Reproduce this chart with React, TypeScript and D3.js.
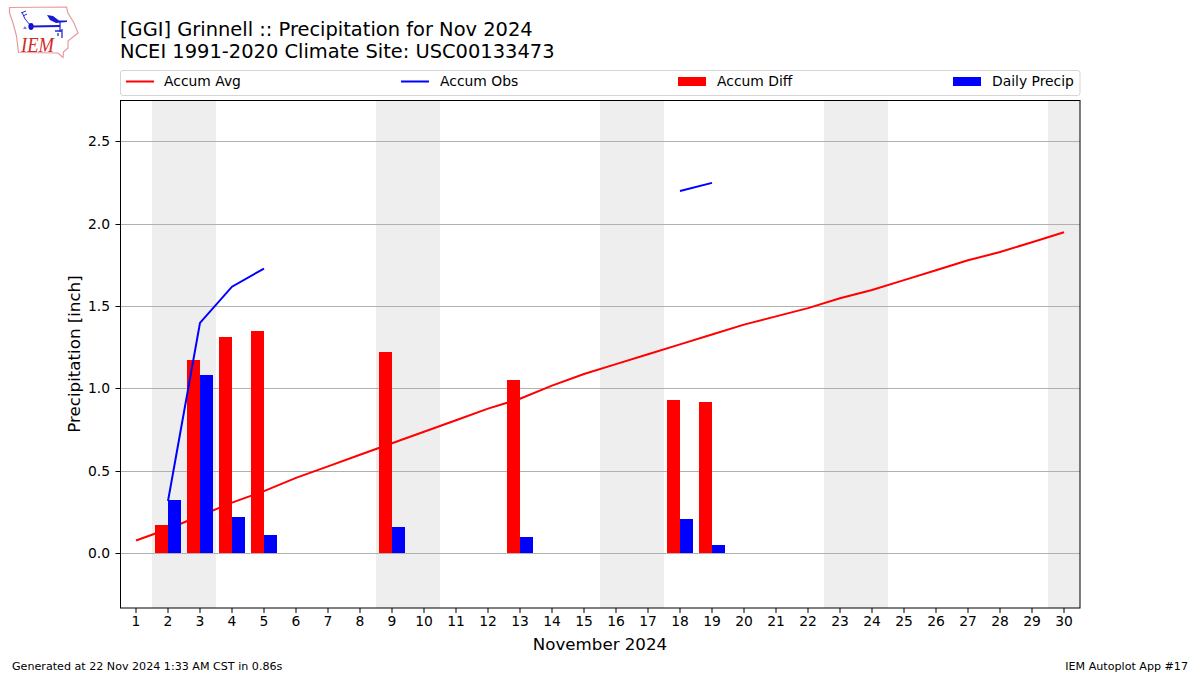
import React from "react";
import * as d3 from "d3";

const days = d3.range(1, 31);
const accumAvg = [0.08, 0.15, 0.23, 0.31, 0.38, 0.46, 0.53, 0.6, 0.67, 0.74, 0.81, 0.88, 0.94, 1.02, 1.09, 1.15, 1.21, 1.27, 1.33, 1.39, 1.44, 1.49, 1.55, 1.6, 1.66, 1.72, 1.78, 1.83, 1.89, 1.95];
const accumObs: (number | null)[] = [null, 0.32, 1.4, 1.62, 1.73, null, null, null, null, null, null, null, null, null, null, null, null, 2.2, 2.25, null, null, null, null, null, null, null, null, null, null, null];
const diffDays = [2, 3, 4, 5, 9, 13, 18, 19];
const accumDiff = [0.17, 1.17, 1.31, 1.35, 1.22, 1.05, 0.93, 0.92];
const dailyPrecip = [0.32, 1.08, 0.22, 0.11, 0.16, 0.1, 0.21, 0.05];
const weekends: [number, number][] = [[1.5, 3.5], [8.5, 10.5], [15.5, 17.5], [22.5, 24.5], [29.5, 30.5]];
const yTicks = [0, 0.5, 1, 1.5, 2, 2.5];

const FONT = "'DejaVu Sans', sans-serif";
const L = 120.5, R = 1080, T = 100.5, B = 608;
const x = d3.scaleLinear().domain([0.5, 30.5]).range([120, 1080]);
const y = d3.scaleLinear().domain([-0.33, 2.752]).range([608.1, 100.1]);
const barW = x(0.4) - x(0);
const crisp = (v: number) => Math.floor(v) + 0.5;
const barBase = Math.floor(y(0));

const line = d3.line<[number, number | null]>()
  .defined((d) => d[1] !== null)
  .x((d) => x(d[0]))
  .y((d) => y(d[1] as number));

const legend = [
  { kind: "line", color: "#ff0000", label: "Accum Avg", sx: 126, tx: 164 },
  { kind: "line", color: "#0000ff", label: "Accum Obs", sx: 401, tx: 440 },
  { kind: "bar", color: "#ff0000", label: "Accum Diff", sx: 678, tx: 717 },
  { kind: "bar", color: "#0000ff", label: "Daily Precip", sx: 953, tx: 992 },
];

function Logo() {
  return (
    <g>
      <path d="M9.5 7.5 L66.5 7 L68 13 L74 23 L78 33 L68 41 L68 48 L63.5 52 L63 57.5 L58 53 L18.5 52.5 L16.5 36 L13 23 L9.5 13 Z" fill="none" stroke="#e79a9a" strokeWidth={1.2} />
      <path d="M22 12 L25 19 L31 26" fill="none" stroke="#2a2ad8" strokeWidth={1} />
      <path d="M21 13 L26 11 M23 16 L27 14" fill="none" stroke="#2a2ad8" strokeWidth={1} />
      <ellipse cx={31} cy={26.5} rx={2.6} ry={3.4} fill="#1010c8" />
      <path d="M31 26.5 L60 26" fill="none" stroke="#1a1ad0" strokeWidth={2} />
      <path d="M47 15 L53 16 L59 20.5 L67 20.5 L67 22 L56 23 L50 20 Z" fill="#1a1ad0" />
      <path d="M60 22 L60 32 M55 31 L62 31 M62 29 L62 38 M58 33 L58 36" fill="none" stroke="#2a2ad8" strokeWidth={1.3} />
      <path d="M23 29 L25 26 L27 29 Z" fill="#7a7ae0" />
      <text x={21} y={52} fontFamily="'Liberation Serif', serif" fontStyle="italic" fontSize={21} fill="#d02a2a" textLength={33} lengthAdjust="spacingAndGlyphs">IEM</text>
    </g>
  );
}

export default function App() {
  const avgPts = days.map((d, i) => [d, accumAvg[i]] as [number, number | null]);
  const obsPts = days.map((d, i) => [d, accumObs[i]] as [number, number | null]);
  const clipId = "plot-clip";
  const bar = (d: number, v: number, left: boolean, fill: string) => {
    const x0 = Math.round(left ? x(d) - barW : x(d));
    const x1 = Math.round(left ? x(d) : x(d) + barW);
    const top = Math.floor(y(v));
    return <rect key={d} x={x0} y={top} width={x1 - x0} height={barBase - top} fill={fill} />;
  };
  return (
    <svg width={1200} height={675} style={{ position: "fixed", left: 0, top: 0, display: "block", background: "#fff" }} fontFamily={FONT}>
      <defs>
        <clipPath id={clipId}><rect x={120} y={100} width={960} height={508} /></clipPath>
      </defs>
      <Logo />
      <text x={120} y={36} fontSize={19.44} fill="#000">[GGI] Grinnell :: Precipitation for Nov 2024</text>
      <text x={120} y={58} fontSize={19.44} fill="#000">NCEI 1991-2020 Climate Site: USC00133473</text>

      <rect x={120.5} y={70.5} width={959.5} height={25} rx={2.5} fill="#fff" stroke="#d5d5d5" strokeWidth={1} />
      {legend.map((l) => (
        <g key={l.label}>
          {l.kind === "line"
            ? <line x1={l.sx} x2={l.sx + 28} y1={81.5} y2={81.5} stroke={l.color} strokeWidth={2} />
            : <rect x={l.sx} y={77} width={28} height={9} fill={l.color} />}
          <text x={l.tx} y={86} fontSize={13.89} fill="#000">{l.label}</text>
        </g>
      ))}

      <g clipPath={`url(#${clipId})`}>
        {weekends.map(([a, b]) => (
          <rect key={a} x={x(a)} y={100} width={x(b) - x(a)} height={508} fill="#eeeeee" />
        ))}
        {yTicks.map((t) => (
          <line key={t} x1={L} x2={R} y1={crisp(y(t))} y2={crisp(y(t))} stroke="#b0b0b0" strokeWidth={1} />
        ))}
        <path d={line(avgPts) ?? ""} fill="none" stroke="#ff0000" strokeWidth={2} />
        {diffDays.map((d, i) => bar(d, accumDiff[i], true, "#ff0000"))}
        {diffDays.map((d, i) => bar(d, dailyPrecip[i], false, "#0000ff"))}
        <path d={line(obsPts) ?? ""} fill="none" stroke="#0000ff" strokeWidth={2} />
      </g>

      <rect x={L} y={T} width={R - L} height={B - T} fill="none" stroke="#000" strokeWidth={1} />

      {days.map((d) => (
        <g key={d}>
          <line x1={x(d)} x2={x(d)} y1={B} y2={B + 5} stroke="#000" strokeWidth={1} />
          <text x={x(d)} y={626} textAnchor="middle" fontSize={13.89} fill="#000">{d}</text>
        </g>
      ))}
      {yTicks.map((t) => (
        <g key={t}>
          <line x1={L - 5} x2={L} y1={crisp(y(t))} y2={crisp(y(t))} stroke="#000" strokeWidth={1} />
          <text x={110} y={Math.floor(y(t)) + 5} textAnchor="end" fontSize={13.89} fill="#000">{t.toFixed(1)}</text>
        </g>
      ))}

      <text x={600} y={649.5} textAnchor="middle" fontSize={16.67} fill="#000">November 2024</text>
      <text transform="translate(80,354) rotate(-90)" textAnchor="middle" fontSize={16.67} fill="#000">Precipitation [inch]</text>

      <text x={12} y={670} fontSize={11.11} fill="#000">Generated at 22 Nov 2024 1:33 AM CST in 0.86s</text>
      <text x={1188} y={670} textAnchor="end" fontSize={11.11} fill="#000">IEM Autoplot App #17</text>
    </svg>
  );
}
